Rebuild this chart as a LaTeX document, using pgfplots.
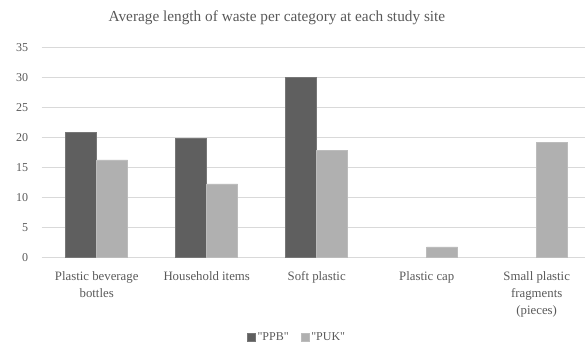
\documentclass[border=0pt]{standalone}
\usepackage{pgfplots}
\pgfplotsset{compat=1.18}
\usepackage{fontspec}
\setmainfont{Liberation Serif}
\newfontfamily\plainserif{Liberation Serif}
\definecolor{txt}{HTML}{595959}
\definecolor{ppb}{HTML}{5F5F5F}
\definecolor{puk}{HTML}{B0B0B0}
\definecolor{grd}{HTML}{D9D9D9}
\begin{document}
\begin{tikzpicture}
\useasboundingbox (0,0) rectangle (585bp,353bp);
\begin{axis}[
  at={(41.7bp,95.3bp)}, anchor=south west,
  scale only axis, width=543.3bp, height=210.2bp,
  xmin=-0.5, xmax=4.439, ymin=0, ymax=35,
  ybar=0pt, bar width=0.282,
  axis line style={draw=none},
  major tick length=0pt,
  ytick={0,5,...,35},
  ymajorgrids, grid style={grd, line width=0.9pt},
  xtick={0,1,2,3,4},
  xticklabels={Plastic beverage\\bottles, Household items, Soft plastic, Plastic cap, Small plastic\\fragments\\(pieces)},
  xticklabel style={align=center, font=\fontsize{12.8bp}{17bp}\selectfont, text=txt, yshift=-10bp},
  yticklabel style={font=\fontsize{12bp}{14bp}\selectfont, text=txt, xshift=-10bp},
  /pgf/number format/assume math mode=true,
  title={Average length of waste per category at each study site},
  title style={at={(0.433,1)}, anchor=center, yshift=24bp, font=\fontsize{15.3bp}{17bp}\selectfont, text=txt},
  legend style={at={(0.47,-0.381)}, anchor=center, draw=none, fill=none, legend columns=2,
    font=\plainserif\fontsize{12bp}{14bp}\selectfont, text=txt,
    /tikz/every even column/.append style={column sep=10bp}},
  legend image code/.code={\fill[#1] (0bp,-4bp) rectangle (8bp,4bp);},
]
\addplot[fill=ppb, draw=ppb!85!white, line width=0.6pt] coordinates {(0,20.9) (1,19.9) (2,30)};
\addplot[fill=puk, draw=puk!85!white, line width=0.6pt] coordinates {(0,16.3) (1,12.3) (2,17.9) (3,1.8) (4,19.2)};
\legend{"PPB", "PUK"}
\end{axis}
\end{tikzpicture}
\end{document}
